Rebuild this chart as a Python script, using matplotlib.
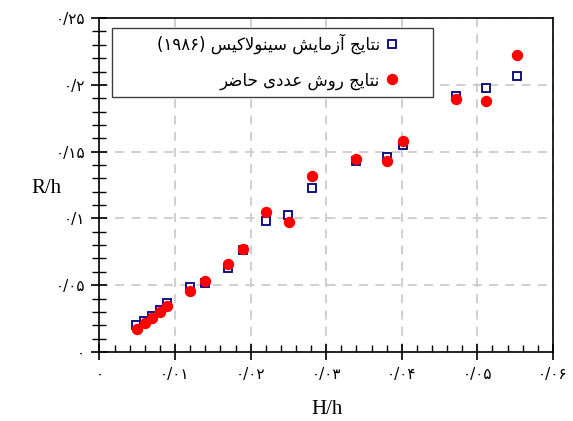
import matplotlib
matplotlib.use('Agg')
import matplotlib.pyplot as plt
from matplotlib.ticker import MultipleLocator
from matplotlib.patches import Rectangle

# داده‌ها
x_exp = [0.0048, 0.0059, 0.0069, 0.0080, 0.0089, 0.0120, 0.0140, 0.0170, 0.0190,
         0.0220, 0.0250, 0.0281, 0.0340, 0.0381, 0.0401, 0.0472, 0.0511, 0.0552]
y_exp = [0.0201, 0.0231, 0.0271, 0.0313, 0.0368, 0.0487, 0.0517, 0.0627, 0.0761,
         0.0980, 0.1022, 0.1229, 0.1433, 0.1463, 0.1552, 0.1918, 0.1978, 0.2067]
x_num = [0.0049, 0.0060, 0.0070, 0.0080, 0.0090, 0.0120, 0.0140, 0.0170, 0.0190,
         0.0220, 0.0251, 0.0281, 0.0340, 0.0381, 0.0401, 0.0472, 0.0511, 0.0552]
y_num = [0.0169, 0.0214, 0.0251, 0.0301, 0.0343, 0.0457, 0.0530, 0.0662, 0.0769,
         0.1047, 0.0970, 0.1319, 0.1446, 0.1433, 0.1577, 0.1893, 0.1881, 0.2222]

label_exp = 'نتایج آزمایش سینولاکیس (۱۹۸۶)'
label_num = 'نتایج روش عددی حاضر'

xticks = [0, 0.01, 0.02, 0.03, 0.04, 0.05, 0.06]
xticklabels = ['۰', '۰/۰۱', '۰/۰۲', '۰/۰۳', '۰/۰۴', '۰/۰۵', '۰/۰۶']
yticks = [0, 0.05, 0.1, 0.15, 0.2, 0.25]
yticklabels = ['۰', '۰/۰۵', '۰/۱', '۰/۱۵', '۰/۲', '۰/۲۵']

# شکل‌دهی حروف فارسی (matplotlib خودش این کار را نمی‌کند)
FORMS = {
    'ا': ('\uFE8D', '\uFE8E', None, None),
    'آ': ('\uFE81', '\uFE82', None, None),
    'ت': ('\uFE95', '\uFE96', '\uFE97', '\uFE98'),
    'ج': ('\uFE9D', '\uFE9E', '\uFE9F', '\uFEA0'),
    'ح': ('\uFEA1', '\uFEA2', '\uFEA3', '\uFEA4'),
    'د': ('\uFEA9', '\uFEAA', None, None),
    'ر': ('\uFEAD', '\uFEAE', None, None),
    'ز': ('\uFEAF', '\uFEB0', None, None),
    'س': ('\uFEB1', '\uFEB2', '\uFEB3', '\uFEB4'),
    'ش': ('\uFEB5', '\uFEB6', '\uFEB7', '\uFEB8'),
    'ض': ('\uFEBD', '\uFEBE', '\uFEBF', '\uFEC0'),
    'ع': ('\uFEC9', '\uFECA', '\uFECB', '\uFECC'),
    'ل': ('\uFEDD', '\uFEDE', '\uFEDF', '\uFEE0'),
    'م': ('\uFEE1', '\uFEE2', '\uFEE3', '\uFEE4'),
    'ن': ('\uFEE5', '\uFEE6', '\uFEE7', '\uFEE8'),
    'و': ('\uFEED', '\uFEEE', None, None),
    'ک': ('\uFB8E', '\uFB8F', '\uFB90', '\uFB91'),
    'ی': ('\uFBFC', '\uFBFD', '\uFBFE', '\uFBFF'),
    'لا': ('\uFEFB', '\uFEFC', None, None),
    'لآ': ('\uFEF5', '\uFEF6', None, None),
}


def shape_word(word):
    units = []
    i = 0
    while i < len(word):
        if word[i] == 'ل' and word[i + 1:i + 2] in ('ا', 'آ'):
            units.append(word[i:i + 2])
            i += 2
        else:
            units.append(word[i])
            i += 1

    def dual(u):
        return u in FORMS and FORMS[u][2] is not None

    glyphs = []
    for k, u in enumerate(units):
        if u not in FORMS:
            glyphs.append(u)
            continue
        iso, fin, ini, med = FORMS[u]
        p = k > 0 and dual(units[k - 1])
        n = k + 1 < len(units) and dual(u) and units[k + 1] in FORMS
        if p and n:
            g = med
        elif p:
            g = fin
        elif n:
            g = ini
        else:
            g = iso
        glyphs.append(g)
    return ''.join(reversed(glyphs))


def fa(text):
    words = text.split(' ')
    out = []
    for w in reversed(words):
        if any(c in FORMS for c in w):
            out.append(shape_word(w))
        else:
            out.append(w)
    return ' '.join(out)


plt.rcParams['font.family'] = ['Liberation Serif', 'DejaVu Sans']

fig = plt.figure(figsize=(5.73, 4.21), dpi=100)
ax = fig.add_axes([0.1736, 0.164, 0.7914, 0.793])

ax.plot(x_exp, y_exp, linestyle='none', marker='s', markersize=6.3,
        markerfacecolor='white', markeredgecolor='#000080', markeredgewidth=1.3,
        label=fa(label_exp), zorder=3)
ax.plot(x_num, y_num, linestyle='none', marker='o', markersize=8.2,
        markerfacecolor='#ff0000', markeredgecolor='#ff0000', markeredgewidth=0,
        label=fa(label_num), zorder=4)

ax.set_xlim(0, 0.06)
ax.set_ylim(0, 0.25)
ax.set_xticks(xticks)
ax.set_xticklabels(xticklabels, fontsize=11, family=['DejaVu Sans'])
ax.set_yticks(yticks)
ax.set_yticklabels(yticklabels, fontsize=11, family=['DejaVu Sans'])
ax.xaxis.set_minor_locator(MultipleLocator(0.002))
ax.yaxis.set_minor_locator(MultipleLocator(0.01))

ax.tick_params(axis='x', which='major', direction='inout', length=11, width=1.2, pad=5)
ax.tick_params(axis='x', which='minor', direction='in', length=5, width=1)
ax.tick_params(axis='y', which='major', direction='inout', length=11, width=1.2, pad=5)
ax.tick_params(axis='y', which='minor', direction='inout', length=10, width=1)
for s in ax.spines.values():
    s.set_linewidth(1.2)
    s.set_color('black')

ax.grid(True, which='major', color='#cccccc', linestyle=(0, (5, 4)), linewidth=1.3)
ax.set_axisbelow(True)

ax.set_xlabel('H/h', fontsize=15, va='center')
ax.xaxis.set_label_coords(0.502, -0.171)
ax.set_ylabel('R/h', fontsize=15, rotation=0, va='center', ha='center')
ax.yaxis.set_label_coords(-0.116, 0.491)

# کادر راهنما
box = Rectangle((0.0276, 0.763), 0.7074, 0.207, transform=ax.transAxes,
                facecolor='white', edgecolor='#404040', linewidth=1.0, zorder=5)
ax.add_patch(box)

leg = ax.legend(loc='upper right', bbox_to_anchor=(0.663, 0.955), borderaxespad=0,
                markerfirst=False, frameon=False,
                prop={'family': 'DejaVu Sans', 'size': 12}, handlelength=1.0,
                handletextpad=0.22, borderpad=0, labelspacing=1.05)
leg.set_zorder(6)

fig.savefig('out.png', dpi=100)
